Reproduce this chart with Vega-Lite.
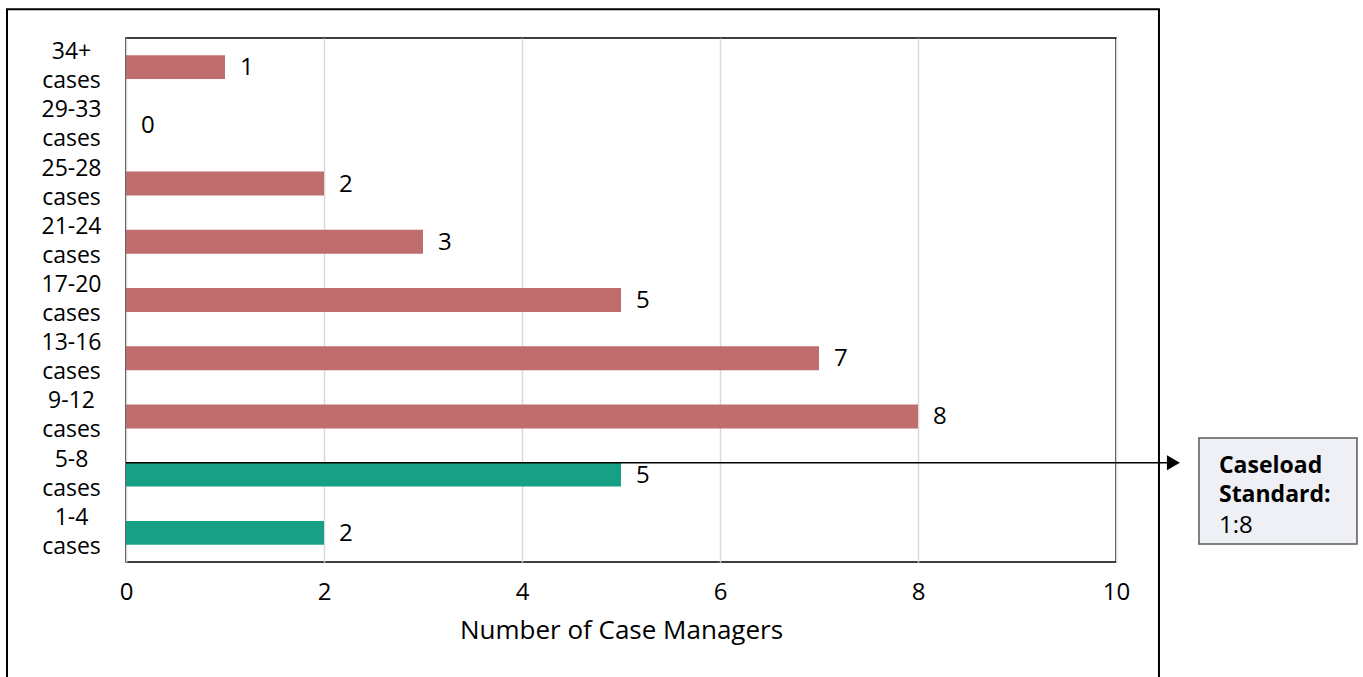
{
  "$schema": "https://vega.github.io/schema/vega-lite/v6.json",
  "width": 990,
  "height": 524,
  "autosize": {"type": "none"},
  "padding": {"left": 126, "top": 38, "right": 247, "bottom": 115},
  "background": "white",
  "config": {
    "view": {"stroke": "black", "strokeWidth": 1.5},
    "font": "Open Sans",
    "text": {"font": "Open Sans"}
  },
  "datasets": {
    "bars": [
      {"range": "34+ cases", "count": 1, "group": "over"},
      {"range": "29-33 cases", "count": 0, "group": "over"},
      {"range": "25-28 cases", "count": 2, "group": "over"},
      {"range": "21-24 cases", "count": 3, "group": "over"},
      {"range": "17-20 cases", "count": 5, "group": "over"},
      {"range": "13-16 cases", "count": 7, "group": "over"},
      {"range": "9-12 cases", "count": 8, "group": "over"},
      {"range": "5-8 cases", "count": 5, "group": "within"},
      {"range": "1-4 cases", "count": 2, "group": "within"}
    ],
    "arrow": [{"range": "5-8 cases", "x0": 0, "x1": 10.55, "tip": 10.58}],
    "box": [{"bx": 10.838, "bx2": 12.434, "by": 2.13, "by2": 0.309}],
    "frame": [{"fx": -1.202, "fx2": 10.434, "fy": 9.493, "fy2": -2.5}],
    "boldtext": [
      {"tx": 11.04, "ty": 1.529, "txt": "Caseload"},
      {"tx": 11.04, "ty": 1.031, "txt": "Standard:"}
    ],
    "plaintext": [
      {"tx": 11.04, "ty": 0.498, "txt": "1:8"}
    ]
  },
  "resolve": {"scale": {"y": "independent"}, "axis": {"y": "independent"}},
  "layer": [
    {
      "layer": [
        {
          "data": {"name": "bars"},
          "mark": {"type": "bar"},
          "encoding": {
            "y": {
              "field": "range", "type": "nominal",
              "scale": {
                "domain": ["34+ cases", "29-33 cases", "25-28 cases", "21-24 cases", "17-20 cases", "13-16 cases", "9-12 cases", "5-8 cases", "1-4 cases"],
                "paddingInner": 0.59, "paddingOuter": 0.295
              },
              "axis": {
                "title": null, "ticks": false, "domain": false,
                "labelExpr": "split(datum.label, ' ')",
                "labelAlign": "center", "labelBaseline": "middle", "labelOffset": -15,
                "labelPadding": 55, "labelFontSize": 23, "labelLineHeight": 29,
                "labelColor": "black", "labelFont": "Open Sans"
              }
            },
            "x": {
              "field": "count", "type": "quantitative",
              "scale": {"domain": [0, 10], "nice": false},
              "axis": {
                "values": [0, 2, 4, 6, 8, 10], "format": "d", "title": "Number of Case Managers",
                "titleFontSize": 26, "titleFontWeight": "normal", "titleColor": "black", "titlePadding": 13, "titleFont": "Open Sans",
                "labelFontSize": 24, "labelColor": "black", "labelPadding": 18, "labelFont": "Open Sans", "labelFlush": false,
                "ticks": false, "domain": false,
                "grid": true, "gridColor": "#D9D9D9", "gridWidth": 1.5
              }
            },
            "color": {
              "field": "group", "type": "nominal",
              "scale": {"domain": ["over", "within"], "range": ["#C06E6D", "#17A086"]},
              "legend": null
            }
          }
        },
        {
          "data": {"name": "bars"},
          "mark": {"type": "text", "align": "left", "baseline": "middle", "dx": 15, "dy": 1, "fontSize": 24, "color": "black"},
          "encoding": {
            "y": {"field": "range", "type": "nominal"},
            "x": {"field": "count", "type": "quantitative"},
            "text": {"field": "count", "type": "quantitative"}
          }
        },
        {
          "data": {"name": "arrow"},
          "mark": {"type": "rule", "color": "black", "strokeWidth": 1.5},
          "encoding": {
            "y": {"field": "range", "type": "nominal", "bandPosition": 0},
            "x": {"field": "x0", "type": "quantitative"},
            "x2": {"field": "x1"}
          }
        },
        {
          "data": {"name": "arrow"},
          "mark": {"type": "point", "shape": "triangle-right", "filled": true, "color": "black", "size": 225, "opacity": 1},
          "encoding": {
            "y": {"field": "range", "type": "nominal", "bandPosition": 0},
            "x": {"field": "tip", "type": "quantitative"}
          }
        }
      ]
    },
    {
      "layer": [
        {
          "data": {"name": "frame"},
          "mark": {"type": "rect", "fill": null, "stroke": "black", "strokeWidth": 2},
          "encoding": {
            "x": {"field": "fx", "type": "quantitative"},
            "x2": {"field": "fx2"},
            "y": {"field": "fy", "type": "quantitative", "scale": {"domain": [0, 9], "nice": false, "zero": false}, "axis": null},
            "y2": {"field": "fy2"}
          }
        },
        {
          "data": {"name": "box"},
          "mark": {"type": "rect", "fill": "#EEF0F5", "stroke": "#595959", "strokeWidth": 1.5},
          "encoding": {
            "x": {"field": "bx", "type": "quantitative"},
            "x2": {"field": "bx2"},
            "y": {"field": "by", "type": "quantitative"},
            "y2": {"field": "by2"}
          }
        },
        {
          "data": {"name": "boldtext"},
          "mark": {"type": "text", "align": "left", "baseline": "alphabetic", "fontSize": 23, "fontWeight": "bold", "color": "black"},
          "encoding": {
            "x": {"field": "tx", "type": "quantitative"},
            "y": {"field": "ty", "type": "quantitative"},
            "text": {"field": "txt"}
          }
        },
        {
          "data": {"name": "plaintext"},
          "mark": {"type": "text", "align": "left", "baseline": "alphabetic", "fontSize": 24, "color": "black"},
          "encoding": {
            "x": {"field": "tx", "type": "quantitative"},
            "y": {"field": "ty", "type": "quantitative"},
            "text": {"field": "txt"}
          }
        }
      ]
    }
  ]
}
